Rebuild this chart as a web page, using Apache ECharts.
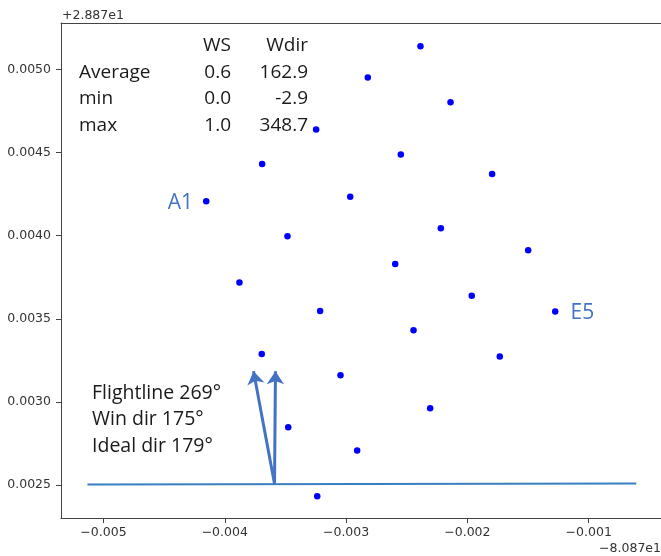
<!DOCTYPE html>
<html>
<head>
<meta charset="utf-8">
<script src="https://cdn.jsdelivr.net/npm/echarts@6/dist/echarts.min.js"></script>
<style>html,body{margin:0;padding:0;background:#fff}#c{width:661px;height:556px}</style>
</head>
<body>
<div id="c"></div>
<script>
// Point positions (offsets from -80.87 lon / +28.87 lat)
const pointLabels = ['p1','p2','p3','p4','p5','p6','p7','p8','A1','p10','p11','p12','p13','p14','p15','p16','E5','p18','p19','p20','p21','p22','p23','p24','p25'];
const xValues = [-0.002387,-0.002821,-0.002139,-0.003247,-0.003692,-0.002549,-0.001796,-0.002966,-0.004153,-0.002219,-0.003483,-0.001499,-0.002595,-0.003879,-0.001964,-0.003214,-0.001276,-0.002444,-0.003695,-0.001733,-0.003046,-0.002307,-0.003477,-0.002909,-0.003238];
const yValues = [0.005138,0.004950,0.004802,0.004638,0.004431,0.004487,0.004371,0.004233,0.004207,0.004044,0.003996,0.003912,0.003830,0.003718,0.003638,0.003547,0.003544,0.003431,0.003289,0.003273,0.003161,0.002963,0.002849,0.002709,0.002434];
// Flight line endpoints
const flightX = [-0.005132,-0.000608];
const flightY = [0.002504,0.002510];
// Arrows: start and tips (wind dir / ideal dir)
const arrowStart = [-0.003590,0.002509];
const arrowTips = [[-0.003763,0.003185],[-0.003582,0.003185]];
// Ticks
const xTicks = [-0.005,-0.004,-0.003,-0.002,-0.001];
const yTicks = [0.0025,0.0030,0.0035,0.0040,0.0045,0.0050];
// Stats table
const statRows = ['Average','min','max'];
const wsVals = ['0.6','0.0','1.0'];
const wdirVals = ['162.9','-2.9','348.7'];
const infoLines = ['Flightline 269°','Win dir 175°','Ideal dir 179°'];

const chart = echarts.init(document.getElementById('c'));
const txtFont = '"Open Sans", Lato, sans-serif';
const scatterData = xValues.map((x,i)=>{
  const d = {value:[x,yValues[i]], name:pointLabels[i]};
  if (pointLabels[i]==='E5') d.label = {position:'right',distance:12};
  return d;
});
const g = [];
g.push({type:'text',left:62,top:9,style:{text:'+2.887e1',font:'12.5px "DejaVu Sans"',fill:'#333'}});
g.push({type:'text',right:0,top:542,style:{text:'\u22128.087e1',font:'12.5px "DejaVu Sans"',fill:'#333'}});
g.push({type:'text',x:231,y:45.5,style:{text:'WS',font:'19px '+txtFont,fill:'#1a1a1a',align:'right',verticalAlign:'middle'}});
g.push({type:'text',x:308,y:45.5,style:{text:'Wdir',font:'19px '+txtFont,fill:'#1a1a1a',align:'right',verticalAlign:'middle'}});
statRows.forEach((r,i)=>{
  const y = 72.5 + i*26.3;
  g.push({type:'text',x:79,y:y,style:{text:r,font:'19px '+txtFont,fill:'#1a1a1a',align:'left',verticalAlign:'middle'}});
  g.push({type:'text',x:231,y:y,style:{text:wsVals[i],font:'19px '+txtFont,fill:'#1a1a1a',align:'right',verticalAlign:'middle'}});
  g.push({type:'text',x:308,y:y,style:{text:wdirVals[i],font:'19px '+txtFont,fill:'#1a1a1a',align:'right',verticalAlign:'middle'}});
});
infoLines.forEach((t,i)=>{
  g.push({type:'text',x:92,y:393.5+i*26.3,style:{text:t,font:'19.5px '+txtFont,fill:'#1a1a1a',align:'left',verticalAlign:'middle'}});
});

const xMin = -0.00535, xMax = -0.000404;
chart.setOption({
  animation:false,
  grid:{left:61,top:23,right:0,bottom:38},
  xAxis:[{type:'value',min:xMin,max:xMax,splitLine:{show:false},
    axisLine:{show:true,lineStyle:{color:'#444'}},
    axisTick:{show:true,customValues:xTicks,length:5,lineStyle:{color:'#444'}},
    axisLabel:{customValues:xTicks,color:'#333',fontFamily:'DejaVu Sans',fontSize:12.5,margin:8,
      formatter:v=>(v<0?'\u2212':'')+Math.abs(v).toFixed(3)}},
    {type:'value',position:'top',min:xMin,max:xMax,splitLine:{show:false},
    axisLine:{show:true,onZero:false,lineStyle:{color:'#444'}},axisTick:{show:false},axisLabel:{show:false}}],
  yAxis:{type:'value',min:0.002303,max:0.005278,splitLine:{show:false},
    axisLine:{show:true,lineStyle:{color:'#444'}},
    axisTick:{show:true,customValues:yTicks,length:5,lineStyle:{color:'#444'}},
    axisLabel:{customValues:yTicks,color:'#333',fontFamily:'DejaVu Sans',fontSize:12.5,margin:10,
      formatter:v=>v.toFixed(4)}},
  graphic:g,
  series:[
    {type:'line',data:flightX.map((x,i)=>[x,flightY[i]]),symbol:'none',lineStyle:{color:'#3a7fc1',width:2},z:2},
    {type:'lines',coordinateSystem:'cartesian2d',
      data:arrowTips.map(t=>({coords:[arrowStart,t]})),
      symbol:['none','arrow'],symbolSize:[0,13],
      lineStyle:{color:'#4472C4',width:3,opacity:1},z:3},
    {type:'scatter',data:scatterData,symbolSize:6.5,itemStyle:{color:'#0000ff',opacity:1},z:4,
      label:{show:true,formatter:p=>(p.name==='A1'||p.name==='E5')?p.name:'',
        position:'left',distance:10,color:'#4472C4',fontSize:21,fontFamily:txtFont,offset:[0,2]}}
  ]
});
</script>
</body>
</html>
